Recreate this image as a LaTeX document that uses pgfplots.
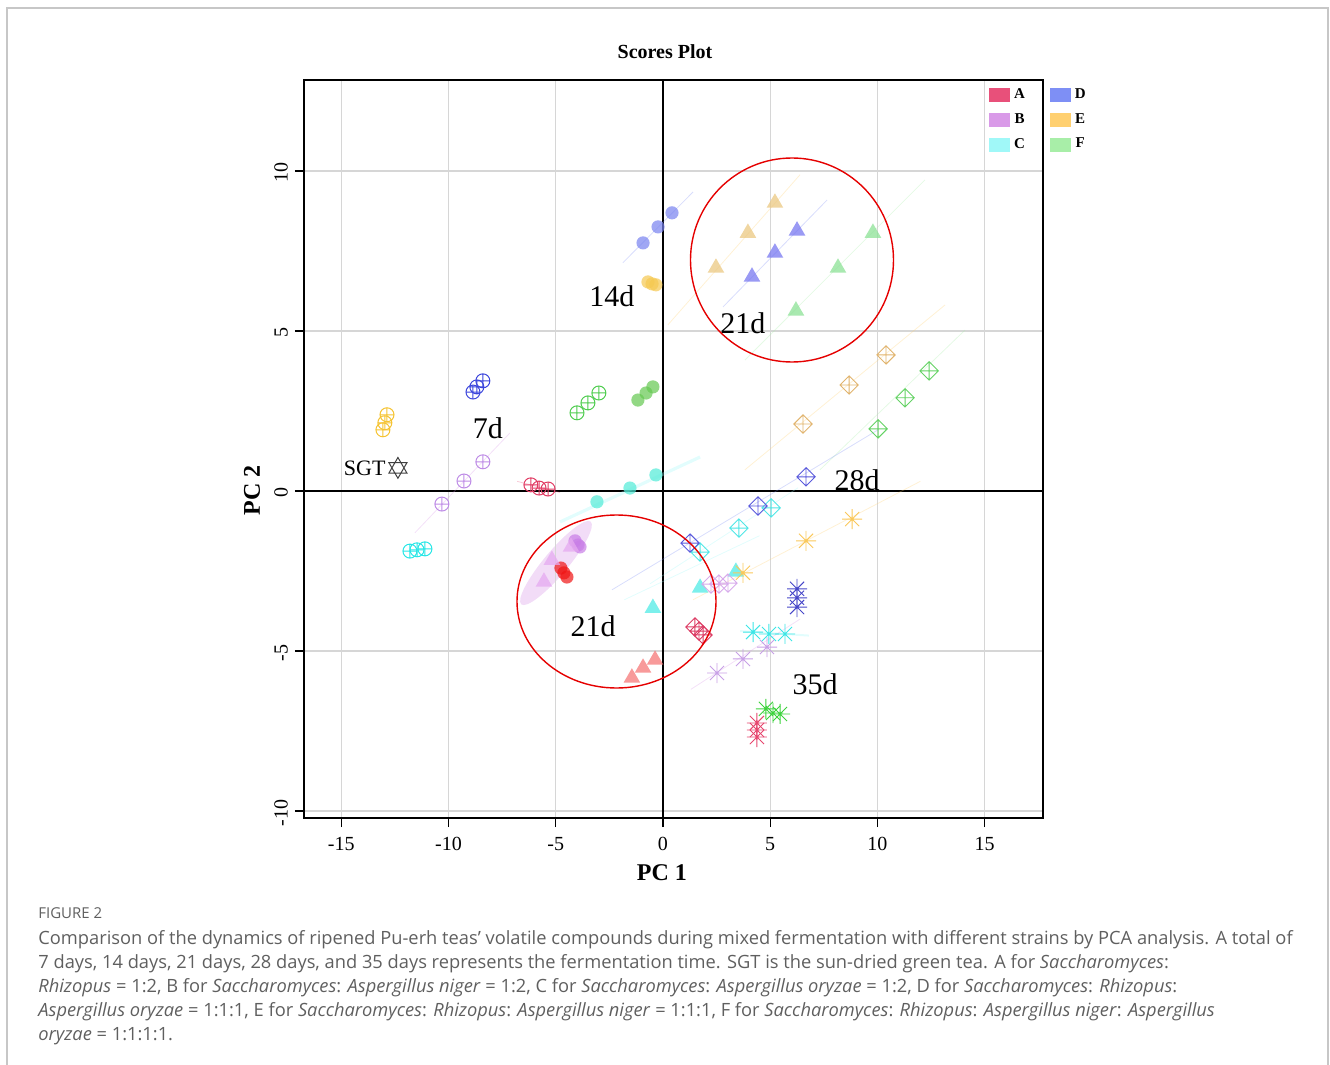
\documentclass[border=0pt]{standalone}
\usepackage{pgfplots}
\pgfplotsset{compat=1.18}
\usepackage{fontspec}
\setmainfont{Liberation Serif}
\newfontfamily\capfont{Open Sans}
\usetikzlibrary{plotmarks}

\definecolor{legA}{RGB}{232,80,122}
\definecolor{legB}{RGB}{217,154,232}
\definecolor{legC}{RGB}{160,248,248}
\definecolor{legD}{RGB}{126,143,245}
\definecolor{legE}{RGB}{255,208,112}
\definecolor{legF}{RGB}{168,238,168}
\definecolor{capgray}{RGB}{95,95,95}
% 7d
\definecolor{sA}{RGB}{225,60,100}
\definecolor{sB}{RGB}{190,140,230}
\definecolor{sC}{RGB}{40,230,230}
\definecolor{sD}{RGB}{60,70,220}
\definecolor{sE}{RGB}{245,195,50}
\definecolor{sF}{RGB}{80,205,80}
% 14d
\definecolor{fA}{RGB}{240,20,20}
\definecolor{fB}{RGB}{200,125,230}
\definecolor{fC}{RGB}{80,235,215}
\definecolor{fD}{RGB}{120,130,240}
\definecolor{fE}{RGB}{245,200,80}
\definecolor{fF}{RGB}{100,200,80}
% 21d
\definecolor{tA}{RGB}{245,120,120}
\definecolor{tB}{RGB}{230,170,240}
\definecolor{tC}{RGB}{80,235,230}
\definecolor{tD}{RGB}{120,120,240}
\definecolor{tE}{RGB}{235,200,130}
\definecolor{tF}{RGB}{140,225,150}
% 28d
\definecolor{qA}{RGB}{220,60,100}
\definecolor{qB}{RGB}{215,170,235}
\definecolor{qC}{RGB}{80,230,230}
\definecolor{qD}{RGB}{90,90,220}
\definecolor{qE}{RGB}{225,180,110}
\definecolor{qF}{RGB}{100,210,100}
% 35d
\definecolor{kA}{RGB}{230,70,110}
\definecolor{kB}{RGB}{200,160,230}
\definecolor{kC}{RGB}{60,230,230}
\definecolor{kD}{RGB}{70,70,200}
\definecolor{kE}{RGB}{250,200,90}
\definecolor{kF}{RGB}{60,210,60}

\pgfdeclareplotmark{dplus}{%
  \pgfpathmoveto{\pgfqpoint{0pt}{\pgfplotmarksize}}%
  \pgfpathlineto{\pgfqpoint{\pgfplotmarksize}{0pt}}%
  \pgfpathlineto{\pgfqpoint{0pt}{-\pgfplotmarksize}}%
  \pgfpathlineto{\pgfqpoint{-\pgfplotmarksize}{0pt}}%
  \pgfpathclose
  \pgfpathmoveto{\pgfqpoint{0pt}{\pgfplotmarksize}}%
  \pgfpathlineto{\pgfqpoint{0pt}{-\pgfplotmarksize}}%
  \pgfpathmoveto{\pgfqpoint{\pgfplotmarksize}{0pt}}%
  \pgfpathlineto{\pgfqpoint{-\pgfplotmarksize}{0pt}}%
  \pgfusepathqstroke}
\pgfdeclareplotmark{rast}{%
  \pgfpathmoveto{\pgfqpoint{0pt}{\pgfplotmarksize}}%
  \pgfpathlineto{\pgfqpoint{0pt}{-\pgfplotmarksize}}%
  \pgfpathmoveto{\pgfqpoint{\pgfplotmarksize}{0pt}}%
  \pgfpathlineto{\pgfqpoint{-\pgfplotmarksize}{0pt}}%
  \pgfpathmoveto{\pgfqpoint{.707\pgfplotmarksize}{.707\pgfplotmarksize}}%
  \pgfpathlineto{\pgfqpoint{-.707\pgfplotmarksize}{-.707\pgfplotmarksize}}%
  \pgfpathmoveto{\pgfqpoint{-.707\pgfplotmarksize}{.707\pgfplotmarksize}}%
  \pgfpathlineto{\pgfqpoint{.707\pgfplotmarksize}{-.707\pgfplotmarksize}}%
  \pgfusepathqstroke}
\pgfdeclareplotmark{hexagram}{%
  \pgfpathmoveto{\pgfqpoint{0pt}{\pgfplotmarksize}}%
  \pgfpathlineto{\pgfqpoint{.866\pgfplotmarksize}{-.5\pgfplotmarksize}}%
  \pgfpathlineto{\pgfqpoint{-.866\pgfplotmarksize}{-.5\pgfplotmarksize}}%
  \pgfpathclose
  \pgfpathmoveto{\pgfqpoint{0pt}{-\pgfplotmarksize}}%
  \pgfpathlineto{\pgfqpoint{.866\pgfplotmarksize}{.5\pgfplotmarksize}}%
  \pgfpathlineto{\pgfqpoint{-.866\pgfplotmarksize}{.5\pgfplotmarksize}}%
  \pgfpathclose
  \pgfusepathqstroke}

\pgfplotsset{
  d7/.style={forget plot, only marks, mark=oplus, mark size=3.5pt, line width=0.5pt, mark options={draw=#1, fill=none}},
  d14/.style={forget plot, only marks, mark=*, mark size=3.3pt, mark options={draw=#1, fill=#1, fill opacity=0.7, draw opacity=0}},
  d21/.style={forget plot, only marks, mark=triangle*, mark size=4.8pt, mark options={draw=#1, fill=#1, fill opacity=0.75, draw opacity=0}},
  d28/.style={forget plot, only marks, mark=dplus, mark size=4.6pt, line width=0.45pt, mark options={draw=#1}},
  d35/.style={forget plot, only marks, mark=rast, mark size=5pt, line width=0.45pt, mark options={draw=#1}},
  faint/.style={no marks, forget plot, draw=#1, opacity=0.3, line width=0.4pt},
  sw/.style={legend image code/.code={\fill[#1] (0pt,-3.3pt) rectangle (10pt,3.3pt);}},
}

\begin{document}
\begin{tikzpicture}
\path[use as bounding box] (0,0) rectangle (665pt,-532.5pt);
% shaded ellipse (B, 21d) beneath everything
\begin{scope}[x=0.5pt,y=-0.5pt]
  \fill[legB, opacity=0.35, rotate around={50:(556,563)}] (556,563) ellipse [x radius=54, y radius=12];
\end{scope}
\begin{axis}[
  at={(152pt,-409pt)}, anchor=south west,
  width=369.5pt, height=369pt, scale only axis,
  xmin=-16.74, xmax=17.72, ymin=-10.22, ymax=12.84,
  xtick={-15,-10,...,15}, ytick={-10,-5,...,10},
  grid=major, major grid style={color=black!16, line width=0.7pt},
  axis line style={line width=0.7pt},
  tick align=outside, xtick pos=bottom, ytick pos=left,
  major tick length=4.5pt, tick style={black, line width=0.7pt},
  /pgf/number format/assume math mode=true,
  ticklabel style={font=\fontsize{10}{12}\selectfont},
  xticklabel style={yshift=-1.5pt},
  yticklabel style={rotate=90, anchor=south, xshift=-1pt},
  title={Scores Plot},
  title style={font=\bfseries\fontsize{10}{12}\selectfont, at={(axis description cs:0.4885,1.0217)}, anchor=center},
  xlabel={PC 1}, ylabel={PC 2},
  xlabel style={font=\bfseries\fontsize{12}{14}\selectfont, at={(axis description cs:0.4844,-0.0745)}, anchor=center},
  ylabel style={font=\bfseries\fontsize{12}{14}\selectfont, at={(axis description cs:-0.0704,0.444)}, anchor=center},
  legend columns=2,
  legend style={at={(0.9188,1.0)}, anchor=north west, draw=none, fill=none,
    font=\bfseries\fontsize{7.5}{9}\selectfont, row sep=2pt,
    /tikz/every even column/.append style={column sep=10.5pt}},
]
% zero lines
\draw[black, line width=0.75pt] (axis cs:0,-10.22) -- (axis cs:0,12.84);
\draw[black, line width=0.75pt] (axis cs:-16.74,0) -- (axis cs:17.72,0);

% faint group lines
\addplot[faint=legD] coordinates {(-1.87,7.13) (1.40,9.34)};
\addplot[faint=legD] coordinates {(2.80,5.75) (7.65,9.09)};
\addplot[faint=legE] coordinates {(0.23,5.19) (6.39,9.88)};
\addplot[faint=legF] coordinates {(3.82,4.09) (12.22,9.72)};
\addplot[faint=legE] coordinates {(3.82,0.66) (13.15,5.81)};
\addplot[faint=legF] coordinates {(7.32,0.66) (14.09,5.03)};
\addplot[faint=legD] coordinates {(-2.38,-3.09) (10.03,1.91)};
\addplot[faint=legC] coordinates {(-0.60,-2.90) (6.30,0.10)};
\addplot[faint=legC, line width=1.6pt] coordinates {(-4.80,-0.97) (1.73,1.06)};
\addplot[faint=legC] coordinates {(-1.80,-3.40) (4.50,-1.40)};
\addplot[faint=legC, line width=1pt] coordinates {(3.60,-4.38) (6.80,-4.52)};
\addplot[faint=legB] coordinates {(-11.57,-1.31) (-7.14,1.81)};
\addplot[faint=legB] coordinates {(1.30,-6.20) (6.40,-4.00)};
\addplot[faint=legE] coordinates {(1.40,-3.40) (12.00,0.30)};
\addplot[faint=legA] coordinates {(-6.80,0.30) (-4.80,-0.05)};

% 7 d
\addplot[d7=sA] coordinates {(-6.16,0.19) (-5.78,0.09) (-5.36,0.06)};
\addplot[d7=sB] coordinates {(-8.40,0.91) (-9.28,0.31) (-10.31,-0.41)};
\addplot[d7=sC] coordinates {(-11.80,-1.88) (-11.47,-1.84) (-11.10,-1.81)};
\addplot[d7=sD] coordinates {(-8.86,3.09) (-8.68,3.25) (-8.40,3.44)};
\addplot[d7=sE] coordinates {(-13.06,1.91) (-12.97,2.13) (-12.87,2.38)};
\addplot[d7=sF] coordinates {(-4.01,2.44) (-3.50,2.75) (-2.99,3.06)};
% 14 d
\addplot[d14=fA] coordinates {(-4.76,-2.41) (-4.62,-2.56) (-4.48,-2.69)};
\addplot[d14=fB] coordinates {(-4.10,-1.56) (-3.96,-1.69) (-3.87,-1.75)};
\addplot[d14=fC] coordinates {(-3.08,-0.34) (-1.54,0.09) (-0.33,0.50)};
\addplot[d14=fD] coordinates {(-0.93,7.75) (-0.23,8.25) (0.42,8.69)};
\addplot[d14=fE] coordinates {(-0.70,6.53) (-0.51,6.47) (-0.33,6.44)};
\addplot[d14=fF] coordinates {(-1.17,2.84) (-0.79,3.06) (-0.47,3.25)};
% 21 d
\addplot[d21=tA] coordinates {(-1.45,-5.84) (-0.93,-5.53) (-0.37,-5.28)};
\addplot[d21=tB] coordinates {(-5.55,-2.84) (-5.18,-2.16) (-4.29,-1.75)};
\addplot[d21=tC] coordinates {(-0.47,-3.66) (1.73,-3.03) (3.40,-2.53)};
\addplot[d21=tD] coordinates {(4.15,6.69) (5.22,7.44) (6.25,8.13)};
\addplot[d21=tE] coordinates {(2.47,6.97) (3.96,8.06) (5.22,9.00)};
\addplot[d21=tF] coordinates {(6.20,5.63) (8.16,6.97) (9.79,8.06)};
% 28 d
\addplot[d28=qA] coordinates {(1.49,-4.25) (1.68,-4.38) (1.87,-4.50)};
\addplot[d28=qB] coordinates {(2.24,-2.91) (2.61,-2.91) (3.03,-2.88)};
\addplot[d28=qC] coordinates {(1.73,-1.91) (3.54,-1.16) (5.04,-0.53)};
\addplot[d28=qD] coordinates {(1.26,-1.63) (4.43,-0.47) (6.67,0.44)};
\addplot[d28=qE] coordinates {(6.53,2.09) (8.68,3.31) (10.40,4.25)};
\addplot[d28=qF] coordinates {(10.03,1.94) (11.29,2.91) (12.41,3.75)};
% 35 d
\addplot[d35=kA] coordinates {(4.38,-7.25) (4.38,-7.47) (4.38,-7.69)};
\addplot[d35=kB] coordinates {(2.52,-5.69) (3.73,-5.25) (4.85,-4.88)};
\addplot[d35=kC] coordinates {(4.20,-4.41) (4.94,-4.47) (5.69,-4.47)};
\addplot[d35=kD] coordinates {(6.25,-3.06) (6.25,-3.34) (6.25,-3.63)};
\addplot[d35=kE] coordinates {(3.73,-2.56) (6.67,-1.56) (8.82,-0.88)};
\addplot[d35=kF] coordinates {(4.80,-6.81) (5.13,-6.94) (5.46,-6.97)};
% SGT
\addplot[forget plot, only marks, mark=hexagram, mark size=5.2pt, line width=0.5pt, mark options={draw=black!75}] coordinates {(-12.36,0.72)};
\node[anchor=east, font=\fontsize{11}{13}\selectfont, inner sep=0pt] at (axis cs:-12.92,0.72) {SGT};

% day labels
\node[font=\fontsize{15}{17}\selectfont] at (axis cs:-2.38,6.09) {14d};
\node[font=\fontsize{15}{17}\selectfont] at (axis cs:3.73,5.25) {21d};
\node[font=\fontsize{15}{17}\selectfont] at (axis cs:-8.16,1.97) {7d};
\node[font=\fontsize{15}{17}\selectfont] at (axis cs:9.05,0.34) {28d};
\node[font=\fontsize{15}{17}\selectfont] at (axis cs:-3.26,-4.22) {21d};
\node[font=\fontsize{15}{17}\selectfont] at (axis cs:7.09,-6.03) {35d};

% legend (row-wise: A D / B E / C F)
\addlegendimage{sw=legA}\addlegendentry{A}
\addlegendimage{sw=legD}\addlegendentry{D}
\addlegendimage{sw=legB}\addlegendentry{B}
\addlegendimage{sw=legE}\addlegendentry{E}
\addlegendimage{sw=legC}\addlegendentry{C}
\addlegendimage{sw=legF}\addlegendentry{F}
\end{axis}

\begin{scope}[x=0.5pt,y=-0.5pt]
  % outer frame
  \draw[black!22, line width=1pt] (7,1065) -- (7,8) -- (1328,8) -- (1328,1065);
  % red ellipses
  \draw[red!90!black, line width=0.7pt] (792,260) ellipse [x radius=101.5, y radius=102];
  \draw[red!90!black, line width=0.7pt] (616.5,601.5) ellipse [x radius=99.5, y radius=86.5];
  % caption
  \node[anchor=west, inner sep=0pt, text=capgray, font=\capfont\fontsize{7.5}{9}\selectfont] at (38,913) {FIGURE 2};
  \node[anchor=north west, inner sep=0pt, align=left, text=capgray, font=\capfont\fontsize{9.14}{12}\selectfont] at (38,930)
  {Comparison of the dynamics of ripened Pu-erh teas’ volatile compounds during mixed fermentation with different strains by PCA analysis. A total of\\
   7 days, 14 days, 21 days, 28 days, and 35 days represents the fermentation time. SGT is the sun-dried green tea. A for \textit{Saccharomyces}:\\
   \textit{Rhizopus} = 1:2, B for \textit{Saccharomyces}: \textit{Aspergillus niger} = 1:2, C for \textit{Saccharomyces}: \textit{Aspergillus oryzae} = 1:2, D for \textit{Saccharomyces}: \textit{Rhizopus}:\\
   \textit{Aspergillus oryzae} = 1:1:1, E for \textit{Saccharomyces}: \textit{Rhizopus}: \textit{Aspergillus niger} = 1:1:1, F for \textit{Saccharomyces}: \textit{Rhizopus}: \textit{Aspergillus niger}: \textit{Aspergillus}\\
   \textit{oryzae} = 1:1:1:1.};
\end{scope}
\end{tikzpicture}
\end{document}
